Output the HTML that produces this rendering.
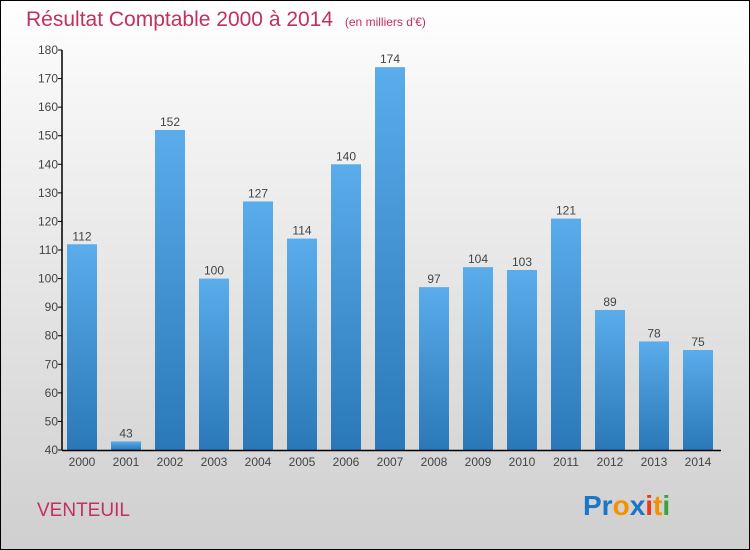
<!DOCTYPE html>
<html><head><meta charset="utf-8"><style>
body{margin:0;}
#wrap{position:relative;width:748px;height:548px;border:1px solid #000;background:linear-gradient(#ffffff,#f4f4f4 20%,#cfcfcf);font-family:"Liberation Sans",sans-serif;overflow:hidden}
</style></head><body>
<div id="wrap">
<svg width="748" height="548" id="svg">
<defs><linearGradient id="bg" x1="0" y1="0" x2="0" y2="1"><stop offset="0" stop-color="#5aaceb"/><stop offset="1" stop-color="#2a78b8"/></linearGradient></defs>
<text x="25" y="25" font-size="21" fill="#c2305e">Résultat Comptable 2000 à 2014 <tspan font-size="12" dx="6">(en milliers d'€)</tspan></text>
<text x="36" y="515" font-size="19" fill="#c2305e">VENTEUIL</text>
<text x="582" y="514" font-size="28" font-weight="bold"><tspan fill="#1b75c9">Pr</tspan><tspan fill="#f39200">o</tspan><tspan fill="#1b75c9">x</tspan><tspan fill="#e53d1c">i</tspan><tspan fill="#f39200">t</tspan><tspan fill="#3ba33a">i</tspan></text>
<g id="g"></g>
</svg>
</div>
<script>
const years=["2000","2001","2002","2003","2004","2005","2006","2007","2008","2009","2010","2011","2012","2013","2014"];
const values=[112,43,152,100,127,114,140,174,97,104,103,121,89,78,75];
const ticks=[40,50,60,70,80,90,100,110,120,130,140,150,160,170,180];
const NS="http://www.w3.org/2000/svg";
const g=document.getElementById('g');
const y=v=>449-(v-40)*(400/140);
const x=i=>81+i*44;
function el(t,a){const e=document.createElementNS(NS,t);for(const k in a)e.setAttribute(k,a[k]);g.appendChild(e);return e;}
values.forEach((v,i)=>{
 const r=el('rect',{x:x(i)-15,y:y(v),width:30,height:449-y(v),fill:'url(#bg)'});
 
 
 const t=el('text',{x:x(i),y:y(v)-4,'font-size':12,fill:'#444','text-anchor':'middle'});
 t.textContent=v;
 
 
 const xl=el('text',{x:x(i),y:465,'font-size':12,fill:'#444','text-anchor':'middle'});
 xl.textContent=years[i];
 
 
});
ticks.forEach(v=>{
 const l=el('line',{x1:57,x2:61,y1:y(v),y2:y(v),stroke:'#000'});
 
 
 const t=el('text',{x:57,y:y(v)+4,'font-size':12,fill:'#444','text-anchor':'end'});
 t.textContent=v;
 
 
});
const ya=el('line',{x1:61,x2:61,y1:y(180),y2:449.5,stroke:'#000','stroke-width':1.5});


const xa=el('line',{x1:61,x2:720,y1:449.5,y2:449.5,stroke:'#000','stroke-width':1.5});


</script>
</body></html>
